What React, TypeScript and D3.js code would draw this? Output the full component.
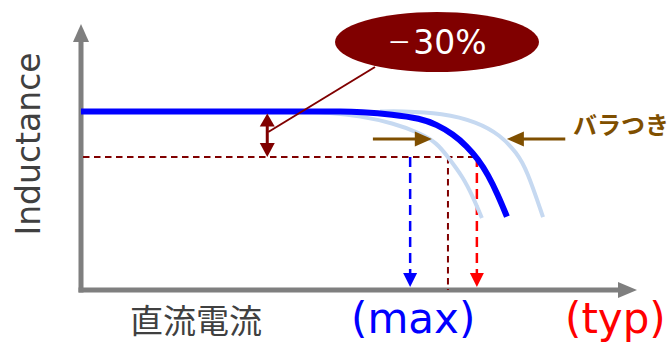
import React from "react";
import * as d3 from "d3";

// Data (current in A, inductance in µH — schematic units)
const typCurve: [number, number][] = [
  [0, 6.71], [4.3, 6.71], [4.66, 6.71], [5.02, 6.69], [5.61, 6.6], [6.1, 6.45], [6.4, 6.22],
  [6.69, 5.86], [6.94, 5.41], [7.14, 4.92], [7.32, 4.34], [7.5, 3.57], [7.66, 2.76],
];
const lowCurve: [number, number][] = [
  [3.94, 6.71], [4.48, 6.67], [5.02, 6.54], [5.61, 6.28], [6.1, 5.9], [6.4, 5.53], [6.6, 5.0],
  [6.87, 4.25], [7.05, 3.5], [7.21, 2.71],
];
const highCurve: [number, number][] = [
  [5.38, 6.71], [5.74, 6.73], [6.51, 6.65], [7.12, 6.32], [7.54, 5.83], [7.84, 5.15], [8.02, 4.51], [8.31, 2.74],
];
const nominalL = 6.71;
const dropL = 5.0; // -30% level as drawn
const maxCurrent = 5.92;
const lowCross = 6.6;
const typCurrent = 7.12;
const deltaArrowX = 3.35;
const spreadY = 5.68;
const spreadLeft: [number, number] = [5.25, 6.31];
const spreadRight: [number, number] = [8.71, 7.66];

const labels = {
  y: "Inductance",
  x: "直流電流",
  max: "(max)",
  typ: "(typ)",
  pctSign: "－",
  pct: "30%",
  spread: "バラつき",
};

const W = 672;
const H = 342;
const x = d3.scaleLinear().domain([0, 10]).range([81, 637]);
const y = d3.scaleLinear().domain([0, 10]).range([290, 24]);

const MAROON = "#800000";
const BROWN = "#7f4f00";
const GRAY = "#7f7f7f";
const LIGHT = "#c6d9f1";

const line = d3
  .line<[number, number]>()
  .x((d) => x(d[0]))
  .y((d) => y(d[1]))
  .curve(d3.curveBasis);

function tri(tx: number, ty: number, dir: "up" | "down" | "left" | "right", len: number, half: number) {
  let pts: [number, number][];
  if (dir === "down") pts = [[tx, ty], [tx - half, ty - len], [tx + half, ty - len]];
  else if (dir === "up") pts = [[tx, ty], [tx - half, ty + len], [tx + half, ty + len]];
  else if (dir === "left") pts = [[tx, ty], [tx + len, ty - half], [tx + len, ty + half]];
  else pts = [[tx, ty], [tx - len, ty - half], [tx - len, ty + half]];
  return pts.map((p) => p.join(",")).join(" ");
}

export default function App() {
  const x0 = x(0);
  const y0 = y(0);
  const yTop = y(10);
  const xEnd = x(10);
  const yNom = y(nominalL);
  const yDrop = y(dropL);
  const ax = x(deltaArrowX);
  const sy = y(spreadY);
  return (
    <svg
      width={W}
      height={H}
      style={{ position: "absolute", left: 0, top: 0 }}
      fontFamily="'DejaVu Sans', Verdana, sans-serif"
    >
      <rect width={W} height={H} fill="#fff" />
      {/* axes */}
      <line x1={x0} y1={y0 + 2.5} x2={x0} y2={yTop + 16} stroke={GRAY} strokeWidth={5} />
      <polygon points={tri(x0, yTop, "up", 18, 8)} fill={GRAY} />
      <line x1={x0 - 2.5} y1={y0} x2={xEnd - 17} y2={y0} stroke={GRAY} strokeWidth={5} />
      <polygon points={tri(xEnd, y0, "right", 19, 8)} fill={GRAY} />

      {/* dashed -30% level */}
      <line x1={x0 + 2} y1={yDrop} x2={x(typCurrent)} y2={yDrop} stroke={MAROON} strokeWidth={2} strokeDasharray="6.5,4.5" />
      {/* vertical dashed */}
      <line x1={x(maxCurrent)} y1={yDrop} x2={x(maxCurrent)} y2={y0 - 14} stroke="#0000ff" strokeWidth={2.5} strokeDasharray="10,6" />
      <polygon points={tri(x(maxCurrent), y0 - 3, "down", 14, 7)} fill="#0000ff" />
      <line x1={x(lowCross)} y1={yDrop} x2={x(lowCross)} y2={y0} stroke={MAROON} strokeWidth={2} strokeDasharray="6.5,4.5" />
      <line x1={x(typCurrent)} y1={yDrop} x2={x(typCurrent)} y2={y0 - 14} stroke="#ff0000" strokeWidth={2.5} strokeDasharray="10,6" />
      <polygon points={tri(x(typCurrent), y0 - 3, "down", 14, 7)} fill="#ff0000" />

      {/* curves */}
      <path d={line(lowCurve) || ""} fill="none" stroke={LIGHT} strokeWidth={4} />
      <path d={line(highCurve) || ""} fill="none" stroke={LIGHT} strokeWidth={4} />
      <path d={line(typCurve) || ""} fill="none" stroke="#0000ff" strokeWidth={6} />

      {/* delta arrow */}
      <line x1={ax} y1={yNom + 14} x2={ax} y2={yDrop - 12} stroke={MAROON} strokeWidth={3} />
      <polygon points={tri(ax, yNom + 2, "up", 13, 7.5)} fill={MAROON} />
      <polygon points={tri(ax, yDrop, "down", 14, 7.5)} fill={MAROON} />
      <line x1={ax + 1} y1={132} x2={375} y2={67} stroke={MAROON} strokeWidth={2} />

      {/* callout */}
      <ellipse cx={437} cy={42} rx={102} ry={30} fill={MAROON} />
      <text x={437} y={54} textAnchor="middle" fill="#fff" fontSize={33}>
        <tspan fontFamily="'Noto Sans CJK JP', sans-serif" fontSize={24} dy={-3}>{labels.pctSign}</tspan>
        <tspan dx={2} dy={3}>{labels.pct}</tspan>
      </text>

      {/* spread arrows */}
      <line x1={x(spreadLeft[0])} y1={sy} x2={x(spreadLeft[1]) - 15} y2={sy} stroke={BROWN} strokeWidth={3} />
      <polygon points={tri(x(spreadLeft[1]), sy, "right", 17, 7.5)} fill={BROWN} />
      <line x1={x(spreadRight[0])} y1={sy} x2={x(spreadRight[1]) + 15} y2={sy} stroke={BROWN} strokeWidth={3} />
      <polygon points={tri(x(spreadRight[1]), sy, "left", 17, 7.5)} fill={BROWN} />
      <text x={573} y={134} fill={BROWN} fontSize={24} fontWeight="bold" fontFamily="'Noto Sans CJK JP', sans-serif">
        {labels.spread}
      </text>

      {/* axis labels */}
      <text transform="translate(40,144) rotate(-90)" textAnchor="middle" fill="#404040" fontSize={33}>
        {labels.y}
      </text>
      <text x={130} y={333} fill="#404040" fontSize={33} fontFamily="'Noto Sans CJK JP', sans-serif">
        {labels.x}
      </text>
      <text x={351} y={333} fill="#0000ff" fontSize={42}>
        {labels.max}
      </text>
      <text x={565} y={333} fill="#ff0000" fontSize={42}>
        {labels.typ}
      </text>
    </svg>
  );
}
